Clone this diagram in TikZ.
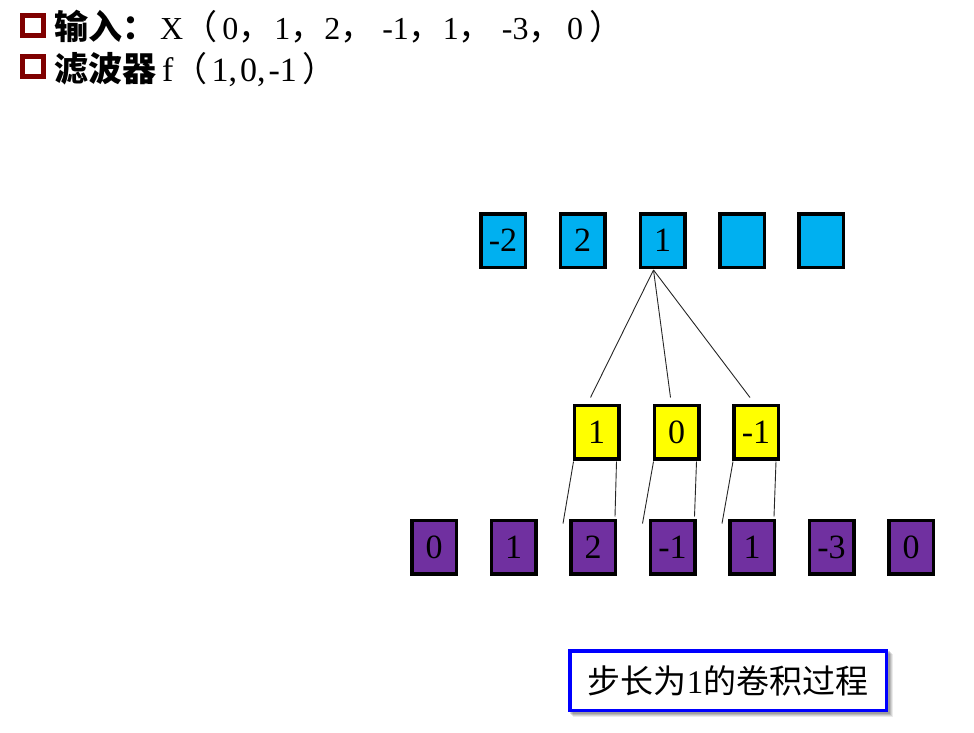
\documentclass[tikz,border=0pt]{standalone}
\usepackage{fontspec}
\setmainfont{Liberation Serif}
\newfontfamily\cjk{Noto Sans CJK SC}
\usetikzlibrary{calc}
\definecolor{cellblue}{HTML}{00B0F0}
\definecolor{cellyellow}{HTML}{FFFF00}
\definecolor{cellpurple}{HTML}{7030A0}
\definecolor{bulletred}{HTML}{7F0000}
\definecolor{labelblue}{HTML}{0000FF}
\newcommand{\cjkb}{\cjk\bfseries\fontsize{34}{36}\selectfont}
\newcommand{\cjkp}{\cjk\fontsize{34}{36}\selectfont}
\tikzset{
  cell/.style={draw=black, line width=3.5pt, minimum width=44.5pt, minimum height=53.5pt,
    inner sep=0pt, font=\fontsize{34}{36}\selectfont},
  bluecell/.style={cell, fill=cellblue},
  yellowcell/.style={cell, fill=cellyellow},
  purplecell/.style={cell, fill=cellpurple},
  link/.style={draw=black!85, line width=0.9pt},
  bulletbox/.style={draw=bulletred, line width=5pt, minimum width=21pt, minimum height=20pt, inner sep=0pt},
  titletext/.style={anchor=base west, inner sep=0pt},
}
\begin{document}
\begin{tikzpicture}[x=1pt,y=-1pt]
\useasboundingbox (0,0) rectangle (974,733);

% title lines
\node[bulletbox] (bul1) at (33,25.5) {};
\node[bulletbox] (bul2) at (33,67) {};
\node[titletext, font=\fontsize{32}{34}\selectfont] (t1) at (54,40)
  {{\cjkb 输入：}\hspace{4pt}X{\cjkp（}\hspace{5pt}0{\cjkp，}\hspace{2pt}1{\cjkp，}2{\cjkp，}\hspace{8pt}-1{\cjkp，}1{\cjkp，}\hspace{9pt}-3{\cjkp，}\hspace{4.5pt}0\hspace{6pt}{\cjkp）}};
\node[titletext, font=\fontsize{34}{36}\selectfont] (t2) at (54,82)
  {{\cjkb 滤波器}\hspace{6pt}f{\cjkp（}\hspace{4pt}1,\hspace{3pt}0,\hspace{3pt}-1\hspace{6pt}{\cjkp）}};

% blue row
\node[bluecell] (b1) at (503,240.5) {-2};
\node[bluecell] (b2) at (582.5,240.5) {2};
\node[bluecell] (b3) at (662.5,240.5) {1};
\node[bluecell] (b4) at (742,240.5) {};
\node[bluecell] (b5) at (821,240.5) {};

% yellow row
\node[yellowcell] (y1) at (596.5,432) {1};
\node[yellowcell] (y2) at (676.5,432) {0};
\node[yellowcell] (y3) at (756,432) {-1};

% purple row
\node[purplecell] (p1) at (434,547) {0};
\node[purplecell] (p2) at (513.5,547) {1};
\node[purplecell] (p3) at (593,547) {2};
\node[purplecell] (p4) at (672.5,547) {-1};
\node[purplecell] (p5) at (752,547) {1};
\node[purplecell] (p6) at (831.5,547) {-3};
\node[purplecell] (p7) at (911,547) {0};

% connectors blue -> yellow
\coordinate (apex) at ($(b3.south)+(-9,1)$);
\foreach \y in {y1,y2,y3}{
  \draw[link] (apex) -- ($(\y.north)+(-6,-6)$);
}
% connectors yellow -> purple
\foreach \y/\p in {y1/p3,y2/p4,y3/p5}{
  \draw[link] ($(\y.south west)+(1,1)$) -- ($(\p.north west)+(-6,5)$);
  \draw[link] ($(\y.south east)+(-4,1)$) -- ($(\p.north east)+(-2,-2)$);
}

% label box with shadow
\foreach \o/\op in {5/0.08,4/0.1,3/0.12,2/0.14}{
  \fill[black,opacity=\op] (568+\o,649+\o) rectangle (888+\o,712+\o);
}
\node[draw=labelblue, fill=white, line width=3.5pt, minimum width=316.5pt, minimum height=59.5pt,
  inner sep=0pt, font=\fontsize{33}{36}\selectfont] (lbl) at (728,680.5)
  {{\cjk 步长为}1{\cjk 的卷积过程}};
\end{tikzpicture}
\end{document}
